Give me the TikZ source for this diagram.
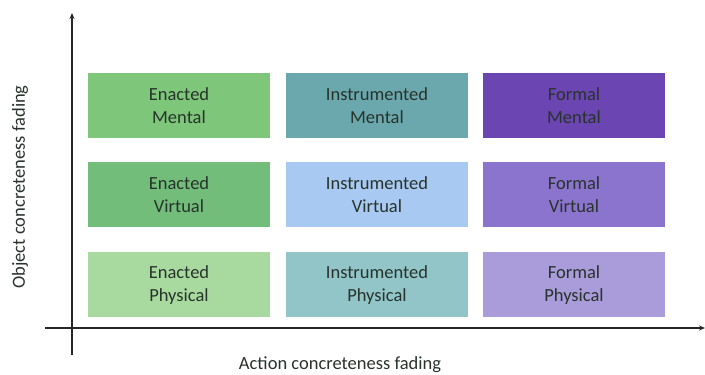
\documentclass[tikz,border=0pt]{standalone}
\usepackage{fontspec}
\setmainfont{Carlito}
\usetikzlibrary{arrows.meta}
\definecolor{txt}{HTML}{27332B}
\definecolor{cEM}{HTML}{7DC67A}
\definecolor{cEV}{HTML}{72BD7A}
\definecolor{cEP}{HTML}{A8DA9F}
\definecolor{cIM}{HTML}{6BA8AE}
\definecolor{cIV}{HTML}{A8C9F2}
\definecolor{cIP}{HTML}{92C5C8}
\definecolor{cFM}{HTML}{6B46B2}
\definecolor{cFV}{HTML}{8B74CD}
\definecolor{cFP}{HTML}{AA9CDA}
\tikzset{
  cell/.style={minimum width=182pt, minimum height=65pt, inner sep=0pt, align=center,
    text=txt, font=\fontsize{18.5}{23}\selectfont},
  axis/.style={line width=1.1pt, draw=black!85, -{Stealth[length=6pt,width=5pt]}},
  axlabel/.style={text=txt, font=\fontsize{18.5}{21}\selectfont}
}
\begin{document}
\begin{tikzpicture}[x=1pt,y=1pt]
\useasboundingbox (0,0) rectangle (705,375);
\node[cell, fill=cEM] (EM) at (179,269.5) {Enacted\\Mental};
\node[cell, fill=cIM] (IM) at (377,269.5) {Instrumented\\Mental};
\node[cell, fill=cFM] (FM) at (574,269.5) {Formal\\Mental};
\node[cell, fill=cEV] (EV) at (179,180) {Enacted\\Virtual};
\node[cell, fill=cIV] (IV) at (377,180) {Instrumented\\Virtual};
\node[cell, fill=cFV] (FV) at (574,180) {Formal\\Virtual};
\node[cell, fill=cEP] (EP) at (179,90) {Enacted\\Physical};
\node[cell, fill=cIP] (IP) at (377,90) {Instrumented\\Physical};
\node[cell, fill=cFP] (FP) at (574,90) {Formal\\Physical};
\coordinate (vb) at (72,20);
\coordinate (vt) at (72,362);
\coordinate (hl) at (45,47);
\coordinate (hr) at (705,47);
\draw[axis] (vb) -- (vt);
\draw[axis] (hl) -- (hr);
\node[axlabel] (xl) at (340,10) {Action concreteness fading};
\node[axlabel, rotate=90] (yl) at (20,188) {Object concreteness fading};
\end{tikzpicture}
\end{document}
